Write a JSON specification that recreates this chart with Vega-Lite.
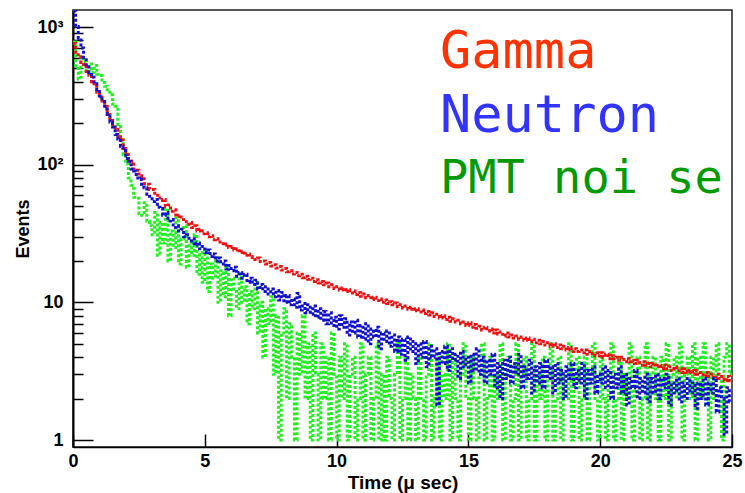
{
  "$schema": "https://vega.github.io/schema/vega-lite/v6.json",
  "width": 659,
  "height": 437,
  "autosize": {"type": "none"},
  "padding": {"left": 73, "top": 10, "right": 13, "bottom": 46},
  "background": "white",
  "config": {"view": {"stroke": "#222", "strokeWidth": 1.5}, "font": "Liberation Sans"},
  "datasets": {
    "hist": [
      {"t": 0.0, "Gamma": 760, "Neutron": 1300, "PMT noise": 780},
      {"t": 0.1, "Gamma": 655, "Neutron": 1010, "PMT noise": 500},
      {"t": 0.2, "Gamma": 605, "Neutron": 830, "PMT noise": 420},
      {"t": 0.3, "Gamma": 552, "Neutron": 705, "PMT noise": 610},
      {"t": 0.4, "Gamma": 522, "Neutron": 598, "PMT noise": 560},
      {"t": 0.5, "Gamma": 476, "Neutron": 532, "PMT noise": 470},
      {"t": 0.6, "Gamma": 446, "Neutron": 468, "PMT noise": 540},
      {"t": 0.7, "Gamma": 401, "Neutron": 432, "PMT noise": 470},
      {"t": 0.8, "Gamma": 376, "Neutron": 388, "PMT noise": 525},
      {"t": 0.9, "Gamma": 336, "Neutron": 352, "PMT noise": 455},
      {"t": 1.0, "Gamma": 311, "Neutron": 316, "PMT noise": 445},
      {"t": 1.1, "Gamma": 281, "Neutron": 288, "PMT noise": 395},
      {"t": 1.2, "Gamma": 265, "Neutron": 254, "PMT noise": 372},
      {"t": 1.3, "Gamma": 232, "Neutron": 232, "PMT noise": 336},
      {"t": 1.4, "Gamma": 217, "Neutron": 204, "PMT noise": 322},
      {"t": 1.5, "Gamma": 192, "Neutron": 188, "PMT noise": 276},
      {"t": 1.6, "Gamma": 180, "Neutron": 166, "PMT noise": 266},
      {"t": 1.7, "Gamma": 159, "Neutron": 154, "PMT noise": 196},
      {"t": 1.8, "Gamma": 151, "Neutron": 136, "PMT noise": 152},
      {"t": 1.9, "Gamma": 131, "Neutron": 127, "PMT noise": 118},
      {"t": 2.0, "Gamma": 123, "Neutron": 111, "PMT noise": 101},
      {"t": 2.1, "Gamma": 109, "Neutron": 106, "PMT noise": 80},
      {"t": 2.2, "Gamma": 106, "Neutron": 93, "PMT noise": 71},
      {"t": 2.3, "Gamma": 93, "Neutron": 90, "PMT noise": 58},
      {"t": 2.4, "Gamma": 91, "Neutron": 80, "PMT noise": 57},
      {"t": 2.5, "Gamma": 83, "Neutron": 78, "PMT noise": 44},
      {"t": 2.6, "Gamma": 82, "Neutron": 69, "PMT noise": 43},
      {"t": 2.7, "Gamma": 73, "Neutron": 68, "PMT noise": 53},
      {"t": 2.8, "Gamma": 72, "Neutron": 61, "PMT noise": 39},
      {"t": 2.9, "Gamma": 66, "Neutron": 59, "PMT noise": 36},
      {"t": 3.0, "Gamma": 66, "Neutron": 54, "PMT noise": 31},
      {"t": 3.1, "Gamma": 60, "Neutron": 56, "PMT noise": 45},
      {"t": 3.2, "Gamma": 60, "Neutron": 49, "PMT noise": 22},
      {"t": 3.3, "Gamma": 55, "Neutron": 48, "PMT noise": 38},
      {"t": 3.4, "Gamma": 56, "Neutron": 43, "PMT noise": 27},
      {"t": 3.5, "Gamma": 50, "Neutron": 45, "PMT noise": 48},
      {"t": 3.6, "Gamma": 51, "Neutron": 39, "PMT noise": 20},
      {"t": 3.7, "Gamma": 46, "Neutron": 40, "PMT noise": 33},
      {"t": 3.8, "Gamma": 47, "Neutron": 35, "PMT noise": 25},
      {"t": 3.9, "Gamma": 42, "Neutron": 36, "PMT noise": 41},
      {"t": 4.0, "Gamma": 43, "Neutron": 33, "PMT noise": 19},
      {"t": 4.1, "Gamma": 40, "Neutron": 34, "PMT noise": 29},
      {"t": 4.2, "Gamma": 40, "Neutron": 30, "PMT noise": 36},
      {"t": 4.3, "Gamma": 37, "Neutron": 31, "PMT noise": 18},
      {"t": 4.4, "Gamma": 38, "Neutron": 28, "PMT noise": 27},
      {"t": 4.5, "Gamma": 35, "Neutron": 29, "PMT noise": 22},
      {"t": 4.6, "Gamma": 36, "Neutron": 26, "PMT noise": 31},
      {"t": 4.7, "Gamma": 33, "Neutron": 27, "PMT noise": 16},
      {"t": 4.8, "Gamma": 34, "Neutron": 24.5, "PMT noise": 23},
      {"t": 4.9, "Gamma": 31.5, "Neutron": 25.5, "PMT noise": 14},
      {"t": 5.0, "Gamma": 32, "Neutron": 23, "PMT noise": 24},
      {"t": 5.1, "Gamma": 30, "Neutron": 24, "PMT noise": 12},
      {"t": 5.2, "Gamma": 30.5, "Neutron": 21.5, "PMT noise": 19},
      {"t": 5.3, "Gamma": 28.5, "Neutron": 22.5, "PMT noise": 15},
      {"t": 5.4, "Gamma": 29, "Neutron": 20, "PMT noise": 21},
      {"t": 5.5, "Gamma": 27.5, "Neutron": 21, "PMT noise": 10},
      {"t": 5.6, "Gamma": 27.5, "Neutron": 19, "PMT noise": 17},
      {"t": 5.7, "Gamma": 26, "Neutron": 20, "PMT noise": 11},
      {"t": 5.8, "Gamma": 26.5, "Neutron": 17.5, "PMT noise": 18},
      {"t": 5.9, "Gamma": 25, "Neutron": 18.5, "PMT noise": 8},
      {"t": 6.0, "Gamma": 25.5, "Neutron": 17, "PMT noise": 15},
      {"t": 6.1, "Gamma": 24, "Neutron": 18, "PMT noise": 12},
      {"t": 6.2, "Gamma": 24.5, "Neutron": 15.5, "PMT noise": 9},
      {"t": 6.3, "Gamma": 23, "Neutron": 16.5, "PMT noise": 16},
      {"t": 6.4, "Gamma": 23.5, "Neutron": 15, "PMT noise": 10},
      {"t": 6.5, "Gamma": 22, "Neutron": 16, "PMT noise": 13},
      {"t": 6.6, "Gamma": 22.5, "Neutron": 14, "PMT noise": 7},
      {"t": 6.7, "Gamma": 21.5, "Neutron": 15, "PMT noise": 12},
      {"t": 6.8, "Gamma": 21.2, "Neutron": 13.5, "PMT noise": 9},
      {"t": 6.9, "Gamma": 20.5, "Neutron": 14.5, "PMT noise": 14},
      {"t": 7.0, "Gamma": 21, "Neutron": 12.5, "PMT noise": 6},
      {"t": 7.1, "Gamma": 19.8, "Neutron": 13.5, "PMT noise": 10},
      {"t": 7.2, "Gamma": 20, "Neutron": 12, "PMT noise": 4},
      {"t": 7.3, "Gamma": 19, "Neutron": 13, "PMT noise": 9},
      {"t": 7.4, "Gamma": 19.5, "Neutron": 11.5, "PMT noise": 7},
      {"t": 7.5, "Gamma": 18.4, "Neutron": 12.5, "PMT noise": 11},
      {"t": 7.6, "Gamma": 18.8, "Neutron": 11, "PMT noise": 3},
      {"t": 7.7, "Gamma": 17.8, "Neutron": 12.2, "PMT noise": 8},
      {"t": 7.8, "Gamma": 18.2, "Neutron": 10.4, "PMT noise": 1},
      {"t": 7.9, "Gamma": 17.2, "Neutron": 11.8, "PMT noise": 6},
      {"t": 8.0, "Gamma": 17.6, "Neutron": 10, "PMT noise": 9},
      {"t": 8.1, "Gamma": 16.7, "Neutron": 11.2, "PMT noise": 2},
      {"t": 8.2, "Gamma": 17, "Neutron": 9.6, "PMT noise": 7},
      {"t": 8.3, "Gamma": 16.1, "Neutron": 10.6, "PMT noise": 4},
      {"t": 8.4, "Gamma": 16.5, "Neutron": 9.2, "PMT noise": 1},
      {"t": 8.5, "Gamma": 15.6, "Neutron": 11.6, "PMT noise": 6},
      {"t": 8.6, "Gamma": 16, "Neutron": 8.8, "PMT noise": 3},
      {"t": 8.7, "Gamma": 15.1, "Neutron": 9.8, "PMT noise": 8},
      {"t": 8.8, "Gamma": 15.5, "Neutron": 8.4, "PMT noise": 2},
      {"t": 8.9, "Gamma": 14.7, "Neutron": 9.6, "PMT noise": 5},
      {"t": 9.0, "Gamma": 15, "Neutron": 8.2, "PMT noise": 1},
      {"t": 9.1, "Gamma": 14.2, "Neutron": 9.4, "PMT noise": 6},
      {"t": 9.2, "Gamma": 14.6, "Neutron": 7.8, "PMT noise": 3},
      {"t": 9.3, "Gamma": 13.8, "Neutron": 9.0, "PMT noise": 1},
      {"t": 9.4, "Gamma": 14.2, "Neutron": 7.4, "PMT noise": 5},
      {"t": 9.5, "Gamma": 13.4, "Neutron": 8.6, "PMT noise": 2},
      {"t": 9.6, "Gamma": 13.8, "Neutron": 7.0, "PMT noise": 4},
      {"t": 9.7, "Gamma": 13, "Neutron": 8.4, "PMT noise": 1},
      {"t": 9.8, "Gamma": 13.4, "Neutron": 6.8, "PMT noise": 6},
      {"t": 9.9, "Gamma": 12.6, "Neutron": 7.8, "PMT noise": 3},
      {"t": 10.0, "Gamma": 13, "Neutron": 6.4, "PMT noise": 1},
      {"t": 10.1, "Gamma": 12.3, "Neutron": 8.0, "PMT noise": 4},
      {"t": 10.2, "Gamma": 12.7, "Neutron": 6.6, "PMT noise": 2},
      {"t": 10.3, "Gamma": 12, "Neutron": 7.6, "PMT noise": 5},
      {"t": 10.4, "Gamma": 12.4, "Neutron": 5.8, "PMT noise": 1},
      {"t": 10.5, "Gamma": 11.7, "Neutron": 7.2, "PMT noise": 3},
      {"t": 10.6, "Gamma": 12.1, "Neutron": 6.0, "PMT noise": 4},
      {"t": 10.7, "Gamma": 11.4, "Neutron": 7.4, "PMT noise": 1},
      {"t": 10.8, "Gamma": 11.8, "Neutron": 5.6, "PMT noise": 2},
      {"t": 10.9, "Gamma": 11.1, "Neutron": 6.8, "PMT noise": 5},
      {"t": 11.0, "Gamma": 11.5, "Neutron": 5.4, "PMT noise": 1},
      {"t": 11.1, "Gamma": 10.8, "Neutron": 7.0, "PMT noise": 3},
      {"t": 11.2, "Gamma": 11.2, "Neutron": 5.0, "PMT noise": 4},
      {"t": 11.3, "Gamma": 10.5, "Neutron": 6.4, "PMT noise": 1},
      {"t": 11.4, "Gamma": 10.9, "Neutron": 5.6, "PMT noise": 2},
      {"t": 11.5, "Gamma": 10.3, "Neutron": 6.6, "PMT noise": 5},
      {"t": 11.6, "Gamma": 10.6, "Neutron": 4.6, "PMT noise": 1},
      {"t": 11.7, "Gamma": 10, "Neutron": 6.0, "PMT noise": 3},
      {"t": 11.8, "Gamma": 10.4, "Neutron": 5.2, "PMT noise": 1},
      {"t": 11.9, "Gamma": 9.8, "Neutron": 6.2, "PMT noise": 4},
      {"t": 12.0, "Gamma": 10.1, "Neutron": 4.8, "PMT noise": 2},
      {"t": 12.1, "Gamma": 9.6, "Neutron": 5.8, "PMT noise": 1},
      {"t": 12.2, "Gamma": 9.9, "Neutron": 4.4, "PMT noise": 3},
      {"t": 12.3, "Gamma": 9.3, "Neutron": 5.6, "PMT noise": 5},
      {"t": 12.4, "Gamma": 9.6, "Neutron": 4.2, "PMT noise": 1},
      {"t": 12.5, "Gamma": 9.1, "Neutron": 5.4, "PMT noise": 2},
      {"t": 12.6, "Gamma": 9.4, "Neutron": 3.8, "PMT noise": 4},
      {"t": 12.7, "Gamma": 8.9, "Neutron": 5.6, "PMT noise": 1},
      {"t": 12.8, "Gamma": 9.2, "Neutron": 4.4, "PMT noise": 3},
      {"t": 12.9, "Gamma": 8.7, "Neutron": 5.2, "PMT noise": 2},
      {"t": 13.0, "Gamma": 9, "Neutron": 3.6, "PMT noise": 1},
      {"t": 13.1, "Gamma": 8.5, "Neutron": 5.0, "PMT noise": 4},
      {"t": 13.2, "Gamma": 8.8, "Neutron": 4.0, "PMT noise": 2},
      {"t": 13.3, "Gamma": 8.3, "Neutron": 5.2, "PMT noise": 1},
      {"t": 13.4, "Gamma": 8.6, "Neutron": 3.4, "PMT noise": 3},
      {"t": 13.5, "Gamma": 8.1, "Neutron": 4.8, "PMT noise": 5},
      {"t": 13.6, "Gamma": 8.4, "Neutron": 4.0, "PMT noise": 1},
      {"t": 13.7, "Gamma": 7.9, "Neutron": 4.6, "PMT noise": 2},
      {"t": 13.8, "Gamma": 8.2, "Neutron": 1.8, "PMT noise": 4},
      {"t": 13.9, "Gamma": 7.7, "Neutron": 4.4, "PMT noise": 1},
      {"t": 14.0, "Gamma": 8, "Neutron": 3.6, "PMT noise": 3},
      {"t": 14.1, "Gamma": 7.5, "Neutron": 4.8, "PMT noise": 2},
      {"t": 14.2, "Gamma": 7.8, "Neutron": 3.2, "PMT noise": 5},
      {"t": 14.3, "Gamma": 7.3, "Neutron": 4.6, "PMT noise": 1},
      {"t": 14.4, "Gamma": 7.6, "Neutron": 3.8, "PMT noise": 4},
      {"t": 14.5, "Gamma": 7.2, "Neutron": 4.2, "PMT noise": 2},
      {"t": 14.6, "Gamma": 7.4, "Neutron": 2.8, "PMT noise": 1},
      {"t": 14.7, "Gamma": 7, "Neutron": 4.4, "PMT noise": 3},
      {"t": 14.8, "Gamma": 7.2, "Neutron": 3.4, "PMT noise": 5},
      {"t": 14.9, "Gamma": 6.8, "Neutron": 4.0, "PMT noise": 2},
      {"t": 15.0, "Gamma": 7.1, "Neutron": 2.6, "PMT noise": 1},
      {"t": 15.1, "Gamma": 6.6, "Neutron": 4.2, "PMT noise": 4},
      {"t": 15.2, "Gamma": 6.9, "Neutron": 3.2, "PMT noise": 2},
      {"t": 15.3, "Gamma": 6.5, "Neutron": 4.6, "PMT noise": 1},
      {"t": 15.4, "Gamma": 6.7, "Neutron": 3.0, "PMT noise": 3},
      {"t": 15.5, "Gamma": 6.3, "Neutron": 4.0, "PMT noise": 5},
      {"t": 15.6, "Gamma": 6.6, "Neutron": 2.6, "PMT noise": 1},
      {"t": 15.7, "Gamma": 6.2, "Neutron": 3.8, "PMT noise": 2},
      {"t": 15.8, "Gamma": 6.4, "Neutron": 3.0, "PMT noise": 4},
      {"t": 15.9, "Gamma": 6, "Neutron": 4.2, "PMT noise": 1},
      {"t": 16.0, "Gamma": 6.3, "Neutron": 2.4, "PMT noise": 3},
      {"t": 16.1, "Gamma": 5.9, "Neutron": 3.6, "PMT noise": 2},
      {"t": 16.2, "Gamma": 6.1, "Neutron": 2.0, "PMT noise": 5},
      {"t": 16.3, "Gamma": 5.7, "Neutron": 3.8, "PMT noise": 1},
      {"t": 16.4, "Gamma": 6, "Neutron": 2.8, "PMT noise": 3},
      {"t": 16.5, "Gamma": 5.6, "Neutron": 4.0, "PMT noise": 4},
      {"t": 16.6, "Gamma": 5.8, "Neutron": 2.6, "PMT noise": 1},
      {"t": 16.7, "Gamma": 5.5, "Neutron": 3.6, "PMT noise": 2},
      {"t": 16.8, "Gamma": 5.7, "Neutron": 3.0, "PMT noise": 5},
      {"t": 16.9, "Gamma": 5.4, "Neutron": 4.2, "PMT noise": 1},
      {"t": 17.0, "Gamma": 5.6, "Neutron": 2.4, "PMT noise": 3},
      {"t": 17.1, "Gamma": 5.3, "Neutron": 3.4, "PMT noise": 4},
      {"t": 17.2, "Gamma": 5.5, "Neutron": 2.8, "PMT noise": 1},
      {"t": 17.3, "Gamma": 5.2, "Neutron": 3.8, "PMT noise": 2},
      {"t": 17.4, "Gamma": 5.4, "Neutron": 2.2, "PMT noise": 5},
      {"t": 17.5, "Gamma": 5.1, "Neutron": 3.4, "PMT noise": 1},
      {"t": 17.6, "Gamma": 5.3, "Neutron": 2.6, "PMT noise": 3},
      {"t": 17.7, "Gamma": 5, "Neutron": 3.6, "PMT noise": 2},
      {"t": 17.8, "Gamma": 5.2, "Neutron": 2.4, "PMT noise": 4},
      {"t": 17.9, "Gamma": 4.9, "Neutron": 3.8, "PMT noise": 1},
      {"t": 18.0, "Gamma": 5.1, "Neutron": 2.8, "PMT noise": 3},
      {"t": 18.1, "Gamma": 4.8, "Neutron": 3.4, "PMT noise": 5},
      {"t": 18.2, "Gamma": 5, "Neutron": 2.2, "PMT noise": 1},
      {"t": 18.3, "Gamma": 4.7, "Neutron": 3.6, "PMT noise": 2},
      {"t": 18.4, "Gamma": 4.9, "Neutron": 2.6, "PMT noise": 4},
      {"t": 18.5, "Gamma": 4.6, "Neutron": 3.2, "PMT noise": 1},
      {"t": 18.6, "Gamma": 4.8, "Neutron": 2.0, "PMT noise": 3},
      {"t": 18.7, "Gamma": 4.5, "Neutron": 3.4, "PMT noise": 2},
      {"t": 18.8, "Gamma": 4.7, "Neutron": 2.8, "PMT noise": 5},
      {"t": 18.9, "Gamma": 4.4, "Neutron": 3.6, "PMT noise": 1},
      {"t": 19.0, "Gamma": 4.6, "Neutron": 2.4, "PMT noise": 3},
      {"t": 19.1, "Gamma": 4.4, "Neutron": 3.2, "PMT noise": 4},
      {"t": 19.2, "Gamma": 4.5, "Neutron": 2.6, "PMT noise": 1},
      {"t": 19.3, "Gamma": 4.3, "Neutron": 3.6, "PMT noise": 2},
      {"t": 19.4, "Gamma": 4.5, "Neutron": 2.0, "PMT noise": 4},
      {"t": 19.5, "Gamma": 4.2, "Neutron": 3.2, "PMT noise": 1},
      {"t": 19.6, "Gamma": 4.4, "Neutron": 2.6, "PMT noise": 3},
      {"t": 19.7, "Gamma": 4.1, "Neutron": 3.4, "PMT noise": 5},
      {"t": 19.8, "Gamma": 4.3, "Neutron": 2.2, "PMT noise": 2},
      {"t": 19.9, "Gamma": 4.1, "Neutron": 3.0, "PMT noise": 1},
      {"t": 20.0, "Gamma": 4.3, "Neutron": 2.6, "PMT noise": 4},
      {"t": 20.1, "Gamma": 4, "Neutron": 3.4, "PMT noise": 2},
      {"t": 20.2, "Gamma": 4.2, "Neutron": 2.4, "PMT noise": 1},
      {"t": 20.3, "Gamma": 3.9, "Neutron": 3.2, "PMT noise": 3},
      {"t": 20.4, "Gamma": 4.1, "Neutron": 2.0, "PMT noise": 5},
      {"t": 20.5, "Gamma": 3.9, "Neutron": 3.0, "PMT noise": 1},
      {"t": 20.6, "Gamma": 4, "Neutron": 2.4, "PMT noise": 2},
      {"t": 20.7, "Gamma": 3.8, "Neutron": 3.4, "PMT noise": 4},
      {"t": 20.8, "Gamma": 4, "Neutron": 2.2, "PMT noise": 1},
      {"t": 20.9, "Gamma": 3.7, "Neutron": 3.0, "PMT noise": 3},
      {"t": 21.0, "Gamma": 3.9, "Neutron": 1.8, "PMT noise": 2},
      {"t": 21.1, "Gamma": 3.7, "Neutron": 2.8, "PMT noise": 5},
      {"t": 21.2, "Gamma": 3.8, "Neutron": 2.4, "PMT noise": 1},
      {"t": 21.3, "Gamma": 3.6, "Neutron": 3.2, "PMT noise": 3},
      {"t": 21.4, "Gamma": 3.8, "Neutron": 2.0, "PMT noise": 4},
      {"t": 21.5, "Gamma": 3.5, "Neutron": 2.8, "PMT noise": 1},
      {"t": 21.6, "Gamma": 3.7, "Neutron": 2.2, "PMT noise": 2},
      {"t": 21.7, "Gamma": 3.5, "Neutron": 3.0, "PMT noise": 5},
      {"t": 21.8, "Gamma": 3.6, "Neutron": 1.9, "PMT noise": 1},
      {"t": 21.9, "Gamma": 3.4, "Neutron": 2.8, "PMT noise": 3},
      {"t": 22.0, "Gamma": 3.6, "Neutron": 2.2, "PMT noise": 4},
      {"t": 22.1, "Gamma": 3.4, "Neutron": 3.0, "PMT noise": 2},
      {"t": 22.2, "Gamma": 3.5, "Neutron": 2.0, "PMT noise": 1},
      {"t": 22.3, "Gamma": 3.3, "Neutron": 2.8, "PMT noise": 4},
      {"t": 22.4, "Gamma": 3.5, "Neutron": 2.4, "PMT noise": 2},
      {"t": 22.5, "Gamma": 3.3, "Neutron": 3.0, "PMT noise": 5},
      {"t": 22.6, "Gamma": 3.4, "Neutron": 1.8, "PMT noise": 1},
      {"t": 22.7, "Gamma": 3.2, "Neutron": 2.6, "PMT noise": 3},
      {"t": 22.8, "Gamma": 3.4, "Neutron": 2.2, "PMT noise": 4},
      {"t": 22.9, "Gamma": 3.2, "Neutron": 2.8, "PMT noise": 2},
      {"t": 23.0, "Gamma": 3.3, "Neutron": 1.9, "PMT noise": 5},
      {"t": 23.1, "Gamma": 3.1, "Neutron": 2.6, "PMT noise": 1},
      {"t": 23.2, "Gamma": 3.3, "Neutron": 2.0, "PMT noise": 3},
      {"t": 23.3, "Gamma": 3.1, "Neutron": 2.8, "PMT noise": 4},
      {"t": 23.4, "Gamma": 3.2, "Neutron": 2.2, "PMT noise": 2},
      {"t": 23.5, "Gamma": 3.0, "Neutron": 2.6, "PMT noise": 5},
      {"t": 23.6, "Gamma": 3.2, "Neutron": 1.7, "PMT noise": 1},
      {"t": 23.7, "Gamma": 3.0, "Neutron": 2.6, "PMT noise": 4},
      {"t": 23.8, "Gamma": 3.1, "Neutron": 2.0, "PMT noise": 2},
      {"t": 23.9, "Gamma": 2.9, "Neutron": 2.8, "PMT noise": 5},
      {"t": 24.0, "Gamma": 3.1, "Neutron": 1.8, "PMT noise": 3},
      {"t": 24.1, "Gamma": 2.9, "Neutron": 2.6, "PMT noise": 1},
      {"t": 24.2, "Gamma": 3.0, "Neutron": 2.2, "PMT noise": 4},
      {"t": 24.3, "Gamma": 2.8, "Neutron": 2.8, "PMT noise": 2},
      {"t": 24.4, "Gamma": 3.0, "Neutron": 1.6, "PMT noise": 5},
      {"t": 24.5, "Gamma": 2.8, "Neutron": 2.4, "PMT noise": 3},
      {"t": 24.6, "Gamma": 2.9, "Neutron": 2.0, "PMT noise": 1},
      {"t": 24.7, "Gamma": 2.7, "Neutron": 1.1, "PMT noise": 4},
      {"t": 24.8, "Gamma": 2.9, "Neutron": 2.4, "PMT noise": 5},
      {"t": 24.9, "Gamma": 2.7, "Neutron": 1.9, "PMT noise": 3},
      {"t": 25.0, "Gamma": 2.7, "Neutron": 1.9, "PMT noise": 3}
    ]
  },
  "layer": [
    {
      "data": {"name": "hist"},
      "transform": [{"fold": ["PMT noise", "Gamma", "Neutron"], "as": ["series", "events"]}],
      "mark": {"type": "line", "interpolate": "step-after", "strokeWidth": 3, "strokeDash": [3, 2], "clip": true},
      "encoding": {
        "x": {
          "field": "t", "type": "quantitative",
          "scale": {"domain": [0, 25], "nice": false},
          "axis": {
            "title": "Time (μ sec)", "values": [0, 5, 10, 15, 20, 25],
            "tickSize": -13, "tickColor": "black", "tickWidth": 1.5,
            "domainColor": "black", "domainWidth": 1.5,
            "labelFontSize": 18, "labelFontWeight": "bold", "labelColor": "black",
            "labelPadding": 18, "labelFlush": false,
            "titleFontSize": 19, "titleFontWeight": "bold", "titleColor": "black",
            "titlePadding": 3, "grid": false
          }
        },
        "y": {
          "field": "events", "type": "quantitative",
          "scale": {"type": "log", "domain": [0.89, 1330], "nice": false},
          "axis": {
            "title": "Events",
            "values": [1, 2, 3, 4, 5, 6, 7, 8, 9, 10, 20, 30, 40, 50, 60, 70, 80, 90, 100, 200, 300, 400, 500, 600, 700, 800, 900, 1000],
            "tickSize": {"condition": {"test": "indexof([1,10,100,1000], datum.value) >= 0", "value": -20}, "value": -10},
            "tickColor": "black", "tickWidth": 1.5,
            "domainColor": "black", "domainWidth": 2,
            "labelExpr": "datum.value === 1 ? '1' : datum.value === 10 ? '10' : datum.value === 100 ? '10²' : datum.value === 1000 ? '10³' : ''",
            "labelOverlap": false, "labelPadding": 30,
            "labelFontSize": 18, "labelFontWeight": "bold", "labelColor": "black",
            "titleFontSize": 18, "titleFontWeight": "bold", "titleColor": "black",
            "titlePadding": 4, "grid": false
          }
        },
        "color": {
          "field": "series", "type": "nominal",
          "scale": {"domain": ["Gamma", "Neutron", "PMT noise"], "range": ["#ee1111", "#1111cc", "#22ee22"]},
          "legend": null
        }
      }
    },
    {
      "data": {"values": [{"label": "Gamma"}]},
      "mark": {"type": "text", "font": "DejaVu Sans Mono", "fontSize": 52, "align": "left", "baseline": "alphabetic", "color": "#ff3300"},
      "encoding": {"x": {"datum": 13.92}, "y": {"datum": 507}, "text": {"field": "label"}}
    },
    {
      "data": {"values": [{"label": "Neutron"}]},
      "mark": {"type": "text", "font": "DejaVu Sans Mono", "fontSize": 52, "align": "left", "baseline": "alphabetic", "color": "#3333ff"},
      "encoding": {"x": {"datum": 13.92}, "y": {"datum": 174}, "text": {"field": "label"}}
    },
    {
      "data": {"values": [{"label": "PMT noi se"}]},
      "mark": {"type": "text", "font": "DejaVu Sans Mono", "fontSize": 47, "align": "left", "baseline": "alphabetic", "color": "#009900"},
      "encoding": {"x": {"datum": 13.92}, "y": {"datum": 62.6}, "text": {"field": "label"}}
    }
  ]
}
